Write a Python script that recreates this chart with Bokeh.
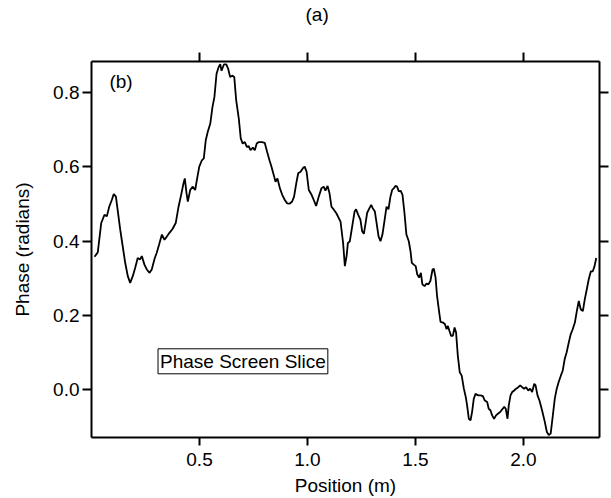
from bokeh.plotting import figure
from bokeh.models import (Range1d, LinearAxis, FixedTicker, PrintfTickFormatter,
                          Label, Title, ColumnDataSource)
from bokeh.embed import file_html
from bokeh.resources import INLINE

# Position (m) and Phase (radians)
position = [0.014, 0.029, 0.045, 0.060, 0.071, 0.082, 0.094, 0.103, 0.113, 0.133,
            0.140, 0.156, 0.168, 0.179, 0.191, 0.202, 0.214, 0.225, 0.233, 0.245,
            0.256, 0.269, 0.279, 0.292, 0.302, 0.313, 0.326, 0.338, 0.349, 0.360,
            0.375, 0.390, 0.403, 0.415, 0.426, 0.432, 0.440, 0.446, 0.457, 0.468,
            0.480, 0.488, 0.499, 0.511, 0.520, 0.529, 0.538, 0.550, 0.560, 0.569,
            0.579, 0.588, 0.596, 0.602, 0.613, 0.624, 0.633, 0.642, 0.651, 0.661,
            0.670, 0.682, 0.691, 0.700, 0.710, 0.719, 0.728, 0.736, 0.747, 0.756,
            0.765, 0.775, 0.790, 0.802, 0.813, 0.824, 0.833, 0.844, 0.852, 0.861,
            0.872, 0.883, 0.895, 0.906, 0.917, 0.929, 0.938, 0.948, 0.957, 0.968,
            0.978, 0.987, 0.996, 1.006, 1.019, 1.029, 1.040, 1.052, 1.065, 1.075,
            1.083, 1.093, 1.102, 1.111, 1.122, 1.133, 1.145, 1.153, 1.165, 1.173,
            1.181, 1.187, 1.196, 1.207, 1.218, 1.225, 1.235, 1.245, 1.253, 1.261,
            1.269, 1.276, 1.287, 1.295, 1.302, 1.312, 1.319, 1.329, 1.338, 1.347,
            1.356, 1.366, 1.375, 1.384, 1.392, 1.400, 1.407, 1.415, 1.423, 1.431,
            1.440, 1.449, 1.458, 1.469, 1.477, 1.483, 1.492, 1.501, 1.508, 1.517,
            1.525, 1.532, 1.542, 1.551, 1.560, 1.569, 1.579, 1.585, 1.593, 1.600,
            1.610, 1.616, 1.627, 1.636, 1.644, 1.650, 1.657, 1.665, 1.673, 1.681,
            1.688, 1.696, 1.705, 1.714, 1.724, 1.733, 1.739, 1.747, 1.755, 1.762,
            1.770, 1.778, 1.790, 1.801, 1.812, 1.821, 1.832, 1.839, 1.847, 1.855,
            1.864, 1.873, 1.883, 1.892, 1.901, 1.911, 1.918, 1.926, 1.932, 1.940,
            1.948, 1.957, 1.966, 1.976, 1.985, 1.994, 2.003, 2.012, 2.022, 2.031,
            2.040, 2.050, 2.056, 2.065, 2.074, 2.086, 2.099, 2.108, 2.117, 2.126,
            2.136, 2.145, 2.154, 2.163, 2.173, 2.182, 2.191, 2.200, 2.210, 2.219,
            2.228, 2.238, 2.247, 2.256, 2.265, 2.275, 2.284, 2.293, 2.302, 2.312,
            2.321, 2.329, 2.337]
phase = [0.358, 0.370, 0.449, 0.471, 0.467, 0.493, 0.511, 0.527, 0.520, 0.431,
         0.404, 0.342, 0.306, 0.288, 0.306, 0.328, 0.355, 0.351, 0.360, 0.337,
         0.324, 0.315, 0.324, 0.353, 0.369, 0.391, 0.418, 0.404, 0.413, 0.422,
         0.433, 0.449, 0.493, 0.525, 0.556, 0.569, 0.529, 0.507, 0.538, 0.547,
         0.538, 0.565, 0.601, 0.618, 0.623, 0.672, 0.694, 0.717, 0.761, 0.788,
         0.851, 0.868, 0.877, 0.859, 0.876, 0.876, 0.864, 0.842, 0.846, 0.842,
         0.779, 0.730, 0.677, 0.663, 0.667, 0.654, 0.656, 0.645, 0.652, 0.645,
         0.663, 0.667, 0.667, 0.665, 0.641, 0.618, 0.601, 0.578, 0.560, 0.569,
         0.543, 0.525, 0.511, 0.502, 0.501, 0.507, 0.520, 0.556, 0.583, 0.587,
         0.596, 0.601, 0.587, 0.538, 0.525, 0.511, 0.495, 0.520, 0.543, 0.547,
         0.536, 0.549, 0.529, 0.493, 0.485, 0.476, 0.462, 0.453, 0.395, 0.333,
         0.360, 0.395, 0.400, 0.440, 0.480, 0.486, 0.471, 0.458, 0.427, 0.420,
         0.449, 0.476, 0.489, 0.498, 0.489, 0.480, 0.453, 0.413, 0.400, 0.418,
         0.453, 0.493, 0.486, 0.520, 0.538, 0.543, 0.549, 0.547, 0.534, 0.536,
         0.525, 0.476, 0.418, 0.400, 0.373, 0.342, 0.337, 0.333, 0.311, 0.302,
         0.315, 0.284, 0.279, 0.286, 0.284, 0.293, 0.324, 0.326, 0.302, 0.252,
         0.208, 0.183, 0.181, 0.177, 0.163, 0.172, 0.159, 0.145, 0.145, 0.168,
         0.154, 0.092, 0.047, 0.038, 0.003, -0.020, -0.042, -0.078, -0.082, -0.060,
         -0.024, -0.011, -0.015, -0.015, -0.017, -0.029, -0.033, -0.051, -0.055, -0.069,
         -0.078, -0.069, -0.064, -0.060, -0.053, -0.046, -0.051, -0.078, -0.042, -0.015,
         -0.006, -0.002, 0.003, 0.007, 0.012, 0.007, 0.003, 0.007, -0.002, 0.003,
         -0.006, 0.016, 0.012, -0.015, -0.029, -0.055, -0.087, -0.113, -0.122, -0.118,
         -0.069, -0.024, 0.003, 0.021, 0.038, 0.052, 0.083, 0.101, 0.128, 0.150,
         0.163, 0.181, 0.212, 0.239, 0.217, 0.212, 0.244, 0.270, 0.297, 0.319,
         0.319, 0.333, 0.355]

x_ticks = [0.5, 1.0, 1.5, 2.0]
y_ticks = [0.0, 0.2, 0.4, 0.6, 0.8]
x_label = "Position (m)"
y_label = "Phase (radians)"
series_name = "Phase Screen Slice"
panel_b = "(b)"
panel_a = "(a)"

FONT = "Liberation Sans"

p = figure(width=611, height=498, output_backend="svg", toolbar_location=None,
           x_range=Range1d(0, 2.352), y_range=Range1d(-0.1285, 0.884),
           x_axis_location=None, y_axis_location=None,
           min_border_left=91, min_border_right=12, min_border_top=61,
           min_border_bottom=59)
p.grid.visible = False
p.outline_line_color = None
p.background_fill_color = "white"
p.border_fill_color = "white"

src = ColumnDataSource(dict(x=position, y=phase))
p.line("x", "y", source=src, line_color="black", line_width=1.8)

bottom = LinearAxis(axis_label=x_label, ticker=FixedTicker(ticks=x_ticks),
                    formatter=PrintfTickFormatter(format="%.1f"))
left = LinearAxis(axis_label=y_label, ticker=FixedTicker(ticks=y_ticks),
                  formatter=PrintfTickFormatter(format="%.1f"))
top = LinearAxis(ticker=FixedTicker(ticks=x_ticks))
right = LinearAxis(ticker=FixedTicker(ticks=y_ticks))

for ax in (bottom, left, top, right):
    ax.axis_line_color = "black"
    ax.axis_line_width = 2
    ax.major_tick_line_color = "black"
    ax.major_tick_line_width = 2
    ax.major_tick_in = 0
    ax.major_tick_out = 9
    ax.minor_tick_line_color = None
    ax.major_label_text_font = FONT
    ax.major_label_text_font_size = "19px"
    ax.major_label_text_color = "black"
    ax.axis_label_text_font = FONT
    ax.axis_label_text_font_size = "19px"
    ax.axis_label_text_font_style = "normal"
    ax.axis_label_text_color = "black"

bottom.major_tick_out = 8
bottom.major_label_standoff = 7
bottom.axis_label_standoff = 6
left.major_label_standoff = 3
left.axis_label_standoff = 17
right.major_label_overrides = {t: "" for t in y_ticks}
right.major_label_standoff = 0
# blank labels on the top axis keep room between the frame and the "(a)" caption
top.major_label_overrides = {t: " " for t in x_ticks}
top.major_label_standoff = 4

p.add_layout(bottom, "below")
p.add_layout(left, "left")
p.add_layout(top, "above")
p.add_layout(right, "right")

p.add_layout(Title(text=panel_a, align="left", offset=214, text_font=FONT,
                   text_font_size="19px", text_font_style="normal",
                   text_color="black", standoff=0), "above")

p.add_layout(Label(x=0.083, y=0.829, text=panel_b, text_font=FONT,
                   text_font_size="19px", text_color="black",
                   text_align="left", text_baseline="middle"))

p.add_layout(Label(x=0.308, y=0.043, text=series_name, text_font=FONT,
                   text_font_size="19px", text_color="black",
                   text_align="left", text_baseline="bottom",
                   border_line_color="black", border_line_width=1,
                   background_fill_color="white", padding=2))

open("out.html", "w").write(file_html(p, INLINE))
